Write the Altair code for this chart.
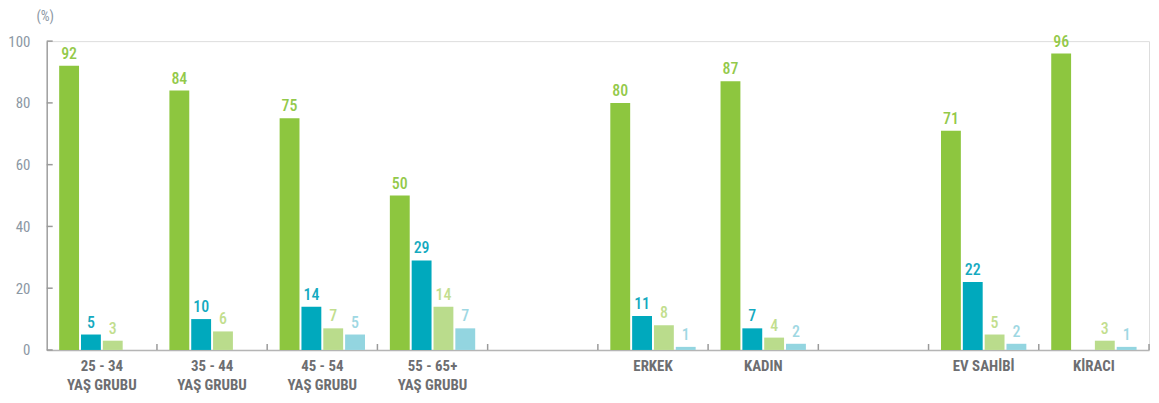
import altair as alt
import pandas as pd

groups = ["25 - 34|YAŞ GRUBU", "35 - 44|YAŞ GRUBU", "45 - 54|YAŞ GRUBU", "55 - 65+|YAŞ GRUBU",
          "gap1", "ERKEK", "KADIN", "gap2", "EV SAHİBİ", "KİRACI"]
real_groups = ["25 - 34|YAŞ GRUBU", "35 - 44|YAŞ GRUBU", "45 - 54|YAŞ GRUBU", "55 - 65+|YAŞ GRUBU",
               "ERKEK", "KADIN", "EV SAHİBİ", "KİRACI"]
series = ["Seri 1", "Seri 2", "Seri 3", "Seri 4"]
s1 = [92, 84, 75, 50, 80, 87, 71, 96]
s2 = [5, 10, 14, 29, 11, 7, 22, 0]
s3 = [3, 6, 7, 14, 8, 4, 5, 3]
s4 = [0, 0, 5, 7, 1, 2, 2, 1]
y_ticks = [0, 20, 40, 60, 80, 100]

bar_colors = ["#8DC63F", "#00A9BD", "#BADC8C", "#93D5E0"]
label_colors = ["#93C94A", "#14AAC0", "#C2DE8E", "#9FD8E3"]

rows = []
for sname, vals in zip(series, [s1, s2, s3, s4]):
    for g, v in zip(real_groups, vals):
        rows.append({"group": g, "series": sname, "value": v})
df = pd.DataFrame(rows)
tick_df = pd.DataFrame({"group": groups})
ytick_df = pd.DataFrame({"v": y_ticks})

FONT = "Roboto Condensed, Liberation Sans Narrow, DejaVu Sans Condensed, Roboto, sans-serif"

x_enc = alt.X("group:N", sort=groups,
              scale=alt.Scale(domain=groups, paddingInner=0, paddingOuter=0),
              axis=alt.Axis(title=None, ticks=False, labelAngle=0,
                            labelExpr="(datum.label == 'gap1' || datum.label == 'gap2') ? '' : split(datum.label, '|')",
                            labelFont=FONT, labelFontSize=15, labelFontWeight="bold",
                            labelColor="#6D6E71", labelLineHeight=19, labelPadding=9,
                            domainColor="#B5B5B5", domainWidth=1.5))
xo_enc = alt.XOffset("series:N", sort=series,
                     scale=alt.Scale(domain=series, paddingInner=0.09, paddingOuter=0.57))
y_enc = alt.Y("value:Q", scale=alt.Scale(domain=[0, 100]),
              axis=alt.Axis(values=y_ticks, ticks=False, grid=False, title="(%)",
                            titleAngle=0, titleX=-2, titleY=-25, titleAlign="center",
                            titleBaseline="middle", titleFont=FONT, titleFontSize=14,
                            titleFontWeight="normal", titleColor="#8C98A4",
                            labelFont=FONT, labelFontSize=15, labelColor="#8C98A4",
                            labelPadding=17, domainColor="#A0A0A0", domainWidth=1.5))

bars = alt.Chart(df).mark_bar().encode(
    x=x_enc, xOffset=xo_enc, y=y_enc,
    color=alt.Color("series:N", sort=series, scale=alt.Scale(domain=series, range=bar_colors), legend=None),
)

labels = alt.Chart(df).transform_filter("datum.value > 0").mark_text(
    dy=-4, baseline="bottom", font=FONT, fontSize=16, fontWeight=500
).encode(
    x=alt.X("group:N", sort=groups), xOffset=alt.XOffset("series:N", sort=series), y="value:Q",
    text="value:Q",
    color=alt.Color("series:N", sort=series, scale=alt.Scale(domain=series, range=label_colors), legend=None),
)

xticks = alt.Chart(tick_df).mark_rule(color="#9A9A9A", strokeWidth=1.5).encode(
    x=alt.X("group:N", sort=groups, bandPosition=1),
    y=alt.value(311), y2=alt.value(305),
)

yticks = alt.Chart(ytick_df).mark_rule(color="#9A9A9A", strokeWidth=1.5).encode(
    y=alt.Y("v:Q"), x=alt.value(0), x2=alt.value(6),
)

chart = alt.layer(bars, labels, xticks, yticks).resolve_scale(color="independent").properties(
    width=1110, height=311,
    autosize=alt.AutoSizeParams(type="none"),
    padding={"left": 39, "top": 32, "right": 2, "bottom": 44},
).configure_view(stroke=None).configure(background="white")

chart.save("out.html", embed_options={"renderer": "svg", "actions": False})
